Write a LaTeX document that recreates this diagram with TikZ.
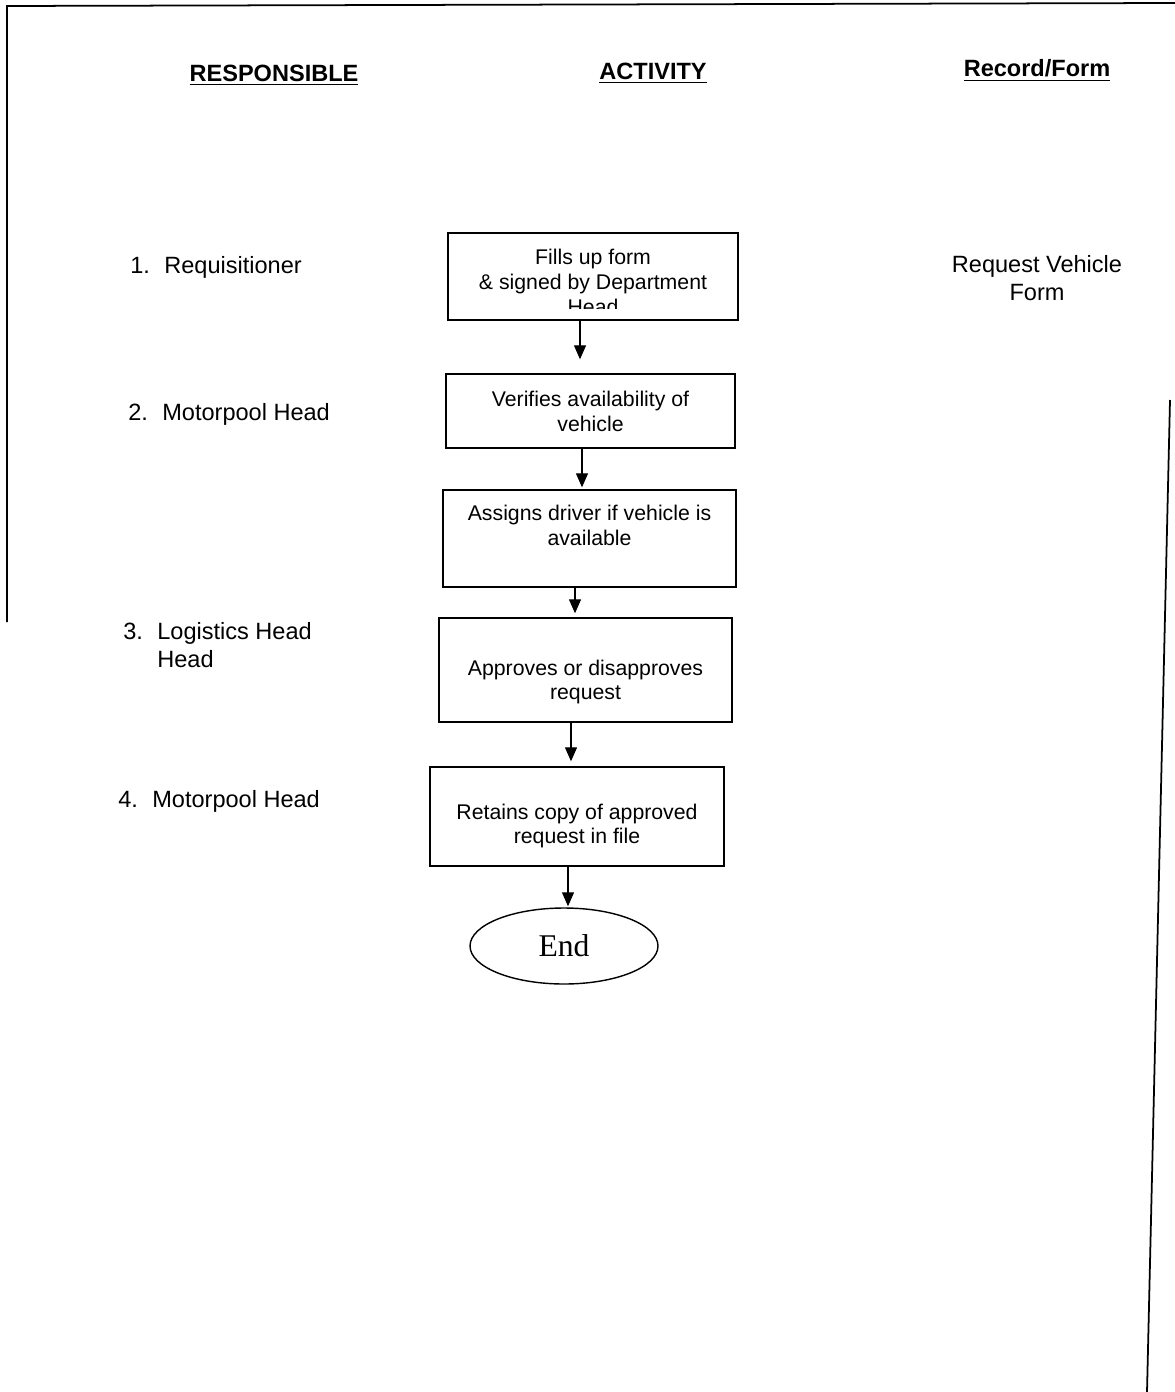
\documentclass[tikz,border=0pt]{standalone}
\usepackage{fontspec}
\setmainfont{Liberation Sans}
\newfontfamily\endfont{Liberation Serif}
\usetikzlibrary{arrows.meta,shapes.geometric}

\begin{document}
\begin{tikzpicture}[x=0.02cm, y=-0.02cm,
		box/.style={draw, line width=0.8pt, inner sep=0pt},
		boxtext/.style={align=center, font=\fontsize{12.1}{14.2}\selectfont},
		who/.style={anchor=base west, inner sep=0pt, font=\fontsize{13.4}{16.4}\selectfont},
		record/.style={align=center, font=\fontsize{13.4}{16.4}\selectfont},
		head/.style={anchor=base, font=\fontsize{13.4}{16}\selectfont\bfseries},
		flow/.style={line width=0.7pt, -{Triangle[length=0.28cm, width=0.24cm]}}]
	\useasboundingbox (0,0) rectangle (1175,1392);

	% Page frame
	\draw[line width=1pt] (7,622) -- (7,6) -- (1175,3);
	\draw[line width=1pt] (1170,400) -- (1147,1392);

	% Column headings
	\node[head] (hresp) at (274,82) {\underline{RESPONSIBLE}};
	\node[head] (hact) at (653,80) {\underline{ACTIVITY}};
	\node[head] (hrec) at (1037,77) {\underline{Record/Form}};

	% Responsible persons
	\node[who] (r1) at (130,273) {\makebox[0.68cm][l]{1.}Requisitioner};
	\node[who] (r2) at (128,420) {\makebox[0.68cm][l]{2.}Motorpool Head};
	\node[who, anchor=west, align=left] (r3) at (123,645) {\makebox[0.68cm][l]{3.}Logistics Head\\\makebox[0.68cm][l]{}Head};
	\node[who] (r4) at (118,807) {\makebox[0.68cm][l]{4.}Motorpool Head};

	% Record
	\node[record] (rec1) at (1037,278) {Request Vehicle\\Form};

	% Activity boxes
	\node[box, minimum width=5.8cm, minimum height=1.74cm] (b1) at (593,276.5) {};
	\begin{scope}
		\clip (b1.north west) rectangle ([yshift=0.24cm]b1.south east);
		\node[boxtext] (t1) at (593,282) {Fills up form\\\& signed by Department\\Head};
	\end{scope}

	\node[box, minimum width=5.78cm, minimum height=1.48cm] (b2) at (590.5,411) {};
	\node[boxtext] (t2) at (590.5,411) {Verifies availability of\\vehicle};

	\node[box, minimum width=5.86cm, minimum height=1.94cm] (b3) at (589.5,538.5) {};
	\node[boxtext] (t3) at (589.5,525) {Assigns driver if vehicle is\\available};

	\node[box, minimum width=5.86cm, minimum height=2.08cm] (b4) at (585.5,670) {};
	\node[boxtext] (t4) at (585.5,682) {Approves or disapproves\\request};

	\node[box, minimum width=5.88cm, minimum height=1.98cm] (b5) at (577,816.5) {};
	\node[boxtext] (t5) at (577,826) {Retains copy of approved\\request in file};

	\node[draw, ellipse, line width=0.8pt, minimum width=3.76cm, minimum height=1.52cm, inner sep=0pt,
		font=\endfont\fontsize{18}{20}\selectfont] (stop) at (564,946) {End};

	% Flow arrows
	\draw[flow] ([xshift=-0.26cm]b1.south) -- ([xshift=-0.26cm,yshift=0.28cm]b1.south |- b2.north);
	\draw[flow] ([xshift=-0.17cm]b2.south) -- ([xshift=-0.17cm,yshift=0.04cm]b2.south |- b3.north);
	\draw[flow] ([xshift=-0.29cm]b3.south) -- ([xshift=-0.29cm,yshift=0.08cm]b3.south |- b4.north);
	\draw[flow] ([xshift=-0.29cm]b4.south) -- ([xshift=-0.29cm,yshift=0.1cm]b4.south |- b5.north);
	\draw[flow] ([xshift=-0.18cm]b5.south) -- ([xshift=-0.18cm,yshift=0.02cm]b5.south |- stop.north);

\end{tikzpicture}
\end{document}
